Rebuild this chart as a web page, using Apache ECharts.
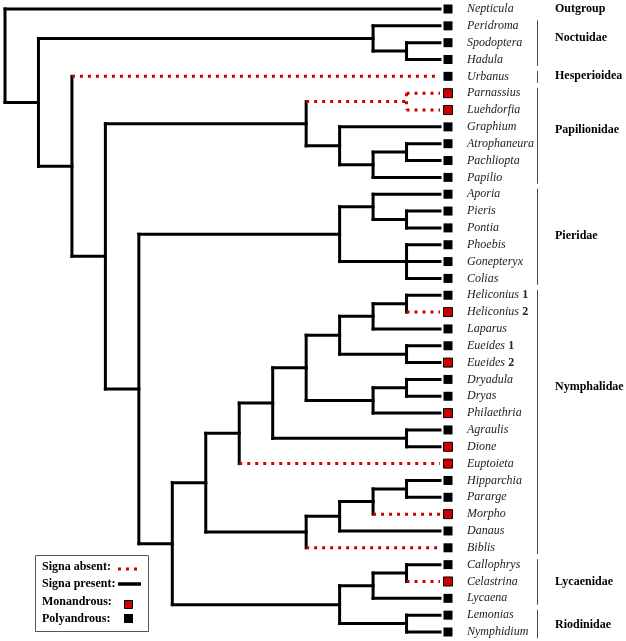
<!DOCTYPE html>
<html><head><meta charset="utf-8">
<script src="https://cdn.jsdelivr.net/npm/echarts@6/dist/echarts.min.js"></script>
<style>html,body{margin:0;padding:0;background:#fff}#c{width:626px;height:641px}</style>
</head><body><div id="c"></div>
<script>
// ---- data ----
const leaves = ['Nepticula','Peridroma','Spodoptera','Hadula','Urbanus','Parnassius','Luehdorfia',
  'Graphium','Atrophaneura','Pachliopta','Papilio','Aporia','Pieris','Pontia','Phoebis','Gonepteryx',
  'Colias','Heliconius 1','Heliconius 2','Laparus','Eueides 1','Eueides 2','Dryadula','Dryas',
  'Philaethria','Agraulis','Dione','Euptoieta','Hipparchia','Pararge','Morpho','Danaus','Biblis',
  'Callophrys','Celastrina','Lycaena','Lemonias','Nymphidium'];
const monandrous = ['Parnassius','Luehdorfia','Heliconius 2','Eueides 2','Philaethria','Dione',
  'Euptoieta','Morpho','Celastrina'];
const signaAbsent = ['Urbanus','Parnassius','Luehdorfia','Heliconius 2','Euptoieta','Morpho',
  'Biblis','Celastrina'];
const leafLevel = 13;
// tree: [nodeLevel, child, child, ...]; strings are leaves
const tree = [0, 'Nepticula',
  [1,
    [11, 'Peridroma', [12, 'Spodoptera', 'Hadula']],
    [2, 'Urbanus',
      [3,
        [9, [12, 'Parnassius', 'Luehdorfia'],
            [10, 'Graphium', [11, [12, 'Atrophaneura', 'Pachliopta'], 'Papilio']]],
        [4,
          [10, [11, 'Aporia', [12, 'Pieris', 'Pontia']], [12, 'Phoebis', 'Gonepteryx', 'Colias']],
          [5,
            [6,
              [7,
                [8,
                  [9,
                    [10, [11, [12, 'Heliconius 1', 'Heliconius 2'], 'Laparus'], [12, 'Eueides 1', 'Eueides 2']],
                    [11, [12, 'Dryadula', 'Dryas'], 'Philaethria']],
                  [12, 'Agraulis', 'Dione']],
                'Euptoieta'],
              [9, [10, [11, [12, 'Hipparchia', 'Pararge'], 'Morpho'], 'Danaus'], 'Biblis']],
            [10, [11, [12, 'Callophrys', 'Celastrina'], 'Lycaena'], [12, 'Lemonias', 'Nymphidium']]
          ]]]]]];
const groupNames = ['Outgroup','Noctuidae','Hesperioidea','Papilionidae','Pieridae','Nymphalidae','Lycaenidae','Riodinidae'];
const groupFirst = ['Nepticula','Peridroma','Urbanus','Parnassius','Aporia','Heliconius 1','Callophrys','Lemonias'];
const groupLast  = ['Nepticula','Hadula','Urbanus','Papilio','Colias','Biblis','Lycaena','Nymphidium'];
const groupLabelRow = [0, 1.7, 4, 7.2, 13.5, 22.45, 34, 36.6];
const groupBracket = [false, true, true, true, true, true, true, true];
const legendLabels = ['Signa absent:','Signa present:','Monandrous:','Polyandrous:'];

// ---- build segments from tree ----
const RED = '#cc0000';
const segs = [];
function walk(node) {
  if (typeof node === 'string') {
    return { y: leaves.indexOf(node), x: leafLevel, absent: signaAbsent.includes(node) };
  }
  const lvl = node[0];
  const kids = node.slice(1).map(walk);
  const absent = kids.every(k => k.absent);
  kids.forEach(k => segs.push([lvl, k.y, k.x, k.y, k.absent ? 1 : 0]));
  const y0 = kids[0].y, y1 = kids[kids.length - 1].y;
  segs.push([lvl, y0, lvl, y1, absent ? 1 : 0]);
  return { y: (y0 + y1) / 2, x: lvl, absent };
}
walk(tree);
// draw black first, red on top
segs.sort((a, b) => a[4] - b[4]);

const leafData = leaves.map((n, i) => [leafLevel, i, monandrous.includes(n) ? 1 : 0]);
const groupData = groupNames.map((n, i) => [leafLevel, groupLabelRow[i],
  leaves.indexOf(groupFirst[i]), leaves.indexOf(groupLast[i]), groupBracket[i] ? 1 : 0]);

const SERIF = '"Liberation Serif", "DejaVu Serif", serif';
const chart = echarts.init(document.getElementById('c'));
chart.setOption({
  animation: false,
  backgroundColor: '#fff',
  grid: { left: 5, right: 186, top: 9, bottom: 9 },
  xAxis: { type: 'value', min: 0, max: leafLevel, show: false },
  yAxis: { type: 'value', min: 0, max: leaves.length - 1, inverse: true, show: false },
  series: [
    {
      type: 'custom', clip: false, data: segs,
      renderItem: (params, api) => {
        const p1 = api.coord([api.value(0), api.value(1)]);
        const p2 = api.coord([api.value(2), api.value(3)]);
        const red = api.value(4) === 1;
        return {
          type: 'line',
          shape: { x1: p1[0], y1: p1[1], x2: p2[0], y2: p2[1] },
          style: red ? { stroke: RED, lineWidth: 3, lineDash: [3, 5], lineCap: 'butt' }
                     : { stroke: '#000', lineWidth: 3, lineCap: 'square' }
        };
      }
    },
    {
      type: 'custom', clip: false, data: leafData,
      renderItem: (params, api) => {
        const p = api.coord([api.value(0), api.value(1)]);
        const mono = api.value(2) === 1;
        const name = leaves[params.dataIndex];
        const m = name.match(/^(.*) (\d)$/);
        const text = m ? '{i|' + m[1] + '} {b|' + m[2] + '}' : '{i|' + name + '}';
        return {
          type: 'group',
          children: [
            { type: 'rect', shape: { x: p[0] + 3.5, y: p[1] - 4.5, width: 9, height: 9 },
              style: { fill: mono ? RED : '#000', stroke: '#000', lineWidth: mono ? 1 : 0 } },
            { type: 'text', x: p[0] + 27, y: p[1],
              style: { text: text, verticalAlign: 'middle', align: 'left',
                rich: {
                  i: { fontStyle: 'italic', fontSize: 12, fontFamily: SERIF, fill: '#222' },
                  b: { fontWeight: 'bold', fontSize: 12, fontFamily: SERIF, fill: '#222' }
                } } }
          ]
        };
      }
    },
    {
      type: 'custom', clip: false, data: groupData,
      renderItem: (params, api) => {
        const p = api.coord([api.value(0), api.value(1)]);
        const a = api.coord([api.value(0), api.value(2) - 0.32]);
        const b = api.coord([api.value(0), api.value(3) + 0.38]);
        const children = [
          { type: 'text', x: p[0] + 115, y: p[1],
            style: { text: groupNames[params.dataIndex], font: 'bold 12px ' + SERIF,
              fill: '#000', verticalAlign: 'middle', align: 'left' } }
        ];
        if (api.value(4) === 1) {
          children.push({ type: 'line', shape: { x1: p[0] + 97.5, y1: a[1], x2: p[0] + 97.5, y2: b[1] },
            style: { stroke: '#444', lineWidth: 1 } });
        }
        return { type: 'group', children };
      }
    }
  ],
  graphic: [
    { type: 'rect', shape: { x: 35.5, y: 555.5, width: 113, height: 76 },
      style: { fill: '#fff', stroke: '#555', lineWidth: 1 }, z: 10 },
    ...legendLabels.map((t, i) => ({
      type: 'text', x: 42, y: [567, 584, 602, 619][i], z: 11,
      style: { text: t, font: 'bold 12px ' + SERIF, fill: '#000', verticalAlign: 'middle' }
    })),
    { type: 'line', shape: { x1: 118, y1: 569, x2: 140, y2: 569 }, z: 11,
      style: { stroke: RED, lineWidth: 3, lineDash: [3, 5] } },
    { type: 'line', shape: { x1: 118, y1: 584, x2: 141, y2: 584 }, z: 11,
      style: { stroke: '#000', lineWidth: 3.5 } },
    { type: 'rect', shape: { x: 124.5, y: 600.5, width: 8, height: 8 }, z: 11,
      style: { fill: RED, stroke: '#000', lineWidth: 1 } },
    { type: 'rect', shape: { x: 124, y: 614, width: 9, height: 9 }, z: 11,
      style: { fill: '#000' } }
  ]
});
</script></body></html>
